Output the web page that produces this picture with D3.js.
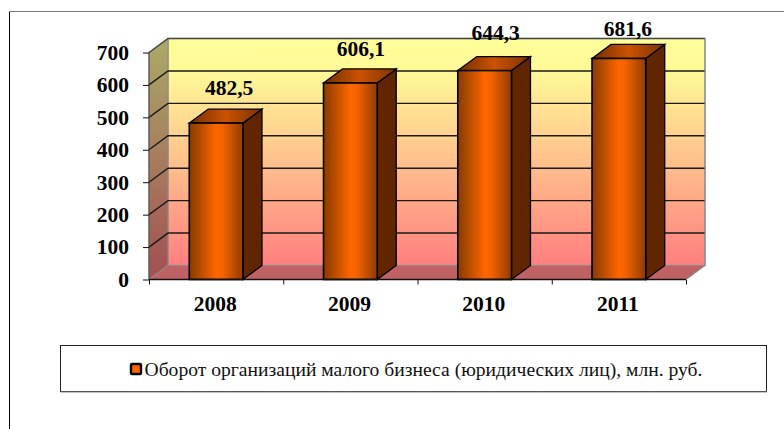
<!DOCTYPE html>
<html>
<head>
<meta charset="utf-8">
<script src="https://cdn.jsdelivr.net/npm/d3@7"></script>
<style>html,body{margin:0;padding:0;background:#fff}svg{display:block}</style>
</head>
<body>
<svg id="c" width="784" height="429"></svg>
<script>
const categories = ["2008", "2009", "2010", "2011"];
const values = [482.5, 606.1, 644.3, 681.6];
const valueLabels = ["482,5", "606,1", "644,3", "681,6"];
const yTicks = [0, 100, 200, 300, 400, 500, 600, 700];
const legendLabel = "Оборот организаций малого бизнеса (юридических лиц), млн. руб.";
const labelDx = [13, 10.5, 11, 9];
const labelDy = [28, 26.5, 31, 22];

const W = 784, H = 429;
const dx = 19, dy = -14;
const svg = d3.select("#c").attr("viewBox", `0 0 ${W} ${H}`);
const serif = "'Liberation Serif','Times New Roman',serif";

const x = d3.scaleBand().domain(categories).range([149, 686]).paddingInner(0.6).paddingOuter(0.3);
const y = d3.scaleLinear().domain([0, 700]).range([279.5, 52.5]);

const defs = svg.append("defs");
const wall = defs.append("linearGradient").attr("id", "wall").attr("x1", 0).attr("x2", 0).attr("y1", 0).attr("y2", 1);
wall.append("stop").attr("offset", 0).attr("stop-color", "#ffff99");
wall.append("stop").attr("offset", 0.16).attr("stop-color", "#fff797");
wall.append("stop").attr("offset", 1).attr("stop-color", "#ff7f7f");
const side = defs.append("linearGradient").attr("id", "side").attr("x1", 0).attr("x2", 0).attr("y1", 0).attr("y2", 1);
side.append("stop").attr("offset", 0).attr("stop-color", "#aaaa68");
side.append("stop").attr("offset", 1).attr("stop-color", "#a34f52");
const bar = defs.append("linearGradient").attr("id", "bar");
[[0, "#8a3a00"], [0.18, "#b04a00"], [0.5, "#ff6600"], [0.62, "#f56200"], [1, "#8f3c00"]]
  .forEach(s => bar.append("stop").attr("offset", s[0]).attr("stop-color", s[1]));
const topG = defs.append("linearGradient").attr("id", "barTop");
[[0, "#702e00"], [0.5, "#cc5200"], [1, "#7a3200"]]
  .forEach(s => topG.append("stop").attr("offset", s[0]).attr("stop-color", s[1]));

// outer frame (left and top only)
svg.append("path").attr("d", "M9.5 429V11.5").attr("stroke", "#000").attr("fill", "none");
svg.append("path").attr("d", `M9.5 11.5H${W}`).attr("stroke", "#7a7a7a").attr("fill", "none");

const [x0, x1] = x.range();
const [yb, yt] = y.range();
// back wall
svg.append("rect").attr("x", x0 + dx).attr("y", yt + dy).attr("width", x1 - x0).attr("height", yb - yt)
  .attr("fill", "url(#wall)").attr("stroke", "#8c8c8c").attr("stroke-width", 1.2);
// left wall
svg.append("path").attr("d", `M${x0} ${yt}L${x0 + dx} ${yt + dy}V${yb + dy}L${x0} ${yb}Z`)
  .attr("fill", "url(#side)").attr("stroke", "#8c8c8c");
// floor
svg.append("path").attr("d", `M${x0} ${yb}L${x0 + dx} ${yb + dy}H${x1 + dx}L${x1} ${yb}Z`)
  .attr("fill", "#c06264").attr("stroke", "#8c8c8c");

// gridlines
yTicks.filter(t => t > 0 && t < 700).forEach(t => {
  svg.append("path").attr("d", `M${x0} ${y(t)}L${x0 + dx} ${y(t) + dy}H${x1 + dx}`)
    .attr("fill", "none").attr("stroke", "#1a1a1a").attr("stroke-width", 1.4);
});
svg.append("path").attr("d", `M${x0} ${yt}L${x0 + dx} ${yt + dy}H${x1 + dx}`)
  .attr("fill", "none").attr("stroke", "#444").attr("stroke-width", 1.4);

// bars
const g = svg.append("g").selectAll("g").data(categories).join("g");
const bw = x.bandwidth();
g.append("path")
  .attr("d", (c, i) => `M${x(c) + bw} ${y(values[i])}L${x(c) + bw + dx} ${y(values[i]) + dy}V${yb + dy}L${x(c) + bw} ${yb}Z`)
  .attr("fill", "#612500").attr("stroke", "#000").attr("stroke-width", 1.3);
g.append("path")
  .attr("d", (c, i) => `M${x(c)} ${y(values[i])}L${x(c) + dx} ${y(values[i]) + dy}H${x(c) + bw + dx}L${x(c) + bw} ${y(values[i])}Z`)
  .attr("fill", "url(#barTop)").attr("stroke", "#000").attr("stroke-width", 1.3);
g.append("rect")
  .attr("x", c => x(c)).attr("width", bw)
  .attr("y", (c, i) => y(values[i])).attr("height", (c, i) => yb - y(values[i]))
  .attr("fill", "url(#bar)").attr("stroke", "#000").attr("stroke-width", 1.6);

// axes
const yAxis = svg.append("g").attr("transform", `translate(${x0},0)`)
  .call(d3.axisLeft(y).tickValues(yTicks).tickSize(6).tickPadding(14).tickFormat(d3.format("d")));
yAxis.select(".domain").attr("stroke", "#444").attr("d", `M0 ${yt}V${yb}`);
const xAxisScale = d3.scalePoint().domain(d3.range(categories.length + 1)).range([x0, x1]);
const xAxis = svg.append("g").attr("transform", `translate(0,${yb})`);
xAxis.call(d3.axisBottom(xAxisScale).tickSize(5).tickFormat(""));
xAxis.select(".domain").attr("stroke", "#111").attr("stroke-width", 1.4).attr("d", `M${x0} 0H${x1}`);
svg.append("path").attr("d", `M${x1} ${yb}L${x1 + dx} ${yb + dy}V${yt + dy}`).attr("fill", "none").attr("stroke", "#8c8c8c");
[yAxis, xAxis].forEach(a => a.selectAll("line").attr("stroke", "#111"));
yAxis.selectAll("text").attr("font-family", serif).attr("font-size", 21.5).attr("font-weight", "bold").attr("fill", "#000");

svg.append("g").selectAll("text").data(categories).join("text")
  .attr("x", (c, i) => (xAxisScale(i) + xAxisScale(i + 1)) / 2 - 1)
  .attr("y", 310.5).attr("text-anchor", "middle")
  .attr("font-family", serif).attr("font-size", 21.5).attr("font-weight", "bold").text(c => c);

// value labels
svg.append("g").selectAll("text").data(categories).join("text")
  .attr("x", (c, i) => x(c) + bw / 2 + labelDx[i])
  .attr("y", (c, i) => y(values[i]) - labelDy[i])
  .attr("text-anchor", "middle")
  .attr("font-family", serif).attr("font-size", 21.5).attr("font-weight", "bold")
  .text((c, i) => valueLabels[i]);

// legend
svg.append("rect").attr("x", 60.5).attr("y", 345.5).attr("width", 706).attr("height", 46)
  .attr("fill", "#fff").attr("stroke", "#222");
svg.append("path").attr("d", "M60.5 392H767").attr("stroke", "#888");
svg.append("rect").attr("x", 131).attr("y", 364).attr("width", 10).attr("height", 10).attr("rx", 1)
  .attr("fill", "#ff6600").attr("stroke", "#000").attr("stroke-width", 2.4);
svg.append("text").attr("x", 144.5).attr("y", 376)
  .attr("font-family", serif).attr("font-size", 19.6).attr("fill", "#111").text(legendLabel);
</script>
</body>
</html>
